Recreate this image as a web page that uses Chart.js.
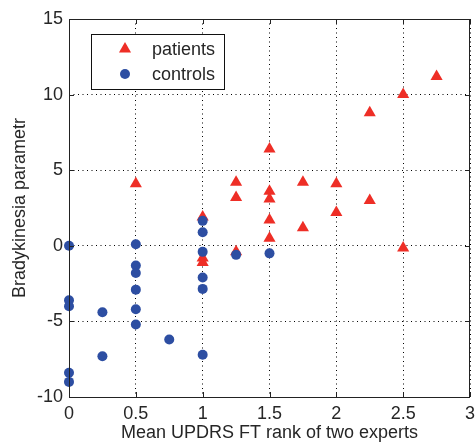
<!DOCTYPE html>
<html>
<head>
<meta charset="utf-8">
<script src="https://cdn.jsdelivr.net/npm/chart.js@4/dist/chart.umd.min.js"></script>
<style>
html,body{margin:0;padding:0;background:#fff;}
#wrap{width:475px;height:445px;position:relative;}
</style>
</head>
<body>
<div id="wrap"><canvas id="c" width="475" height="445"></canvas></div>
<script>
const patientsX = [0.5, 1, 1, 1, 1.25, 1.25, 1.25, 1.5, 1.5, 1.5, 1.5, 1.5, 1.75, 1.75, 2, 2, 2.25, 2.25, 2.5, 2.5, 2.75];
const patientsY = [4.1, 1.9, -0.8, -1.1, 4.2, 3.2, -0.4, 6.4, 3.6, 3.1, 1.7, 0.5, 4.2, 1.2, 4.1, 2.2, 8.8, 3.0, 10.0, -0.15, 11.2];
const controlsX = [0, 0, 0, 0, 0, 0.25, 0.25, 0.5, 0.5, 0.5, 0.5, 0.5, 0.5, 0.75, 1, 1, 1, 1, 1, 1, 1.25, 1.5];
const controlsY = [0.0, -3.6, -4.0, -8.4, -9.0, -4.4, -7.3, 0.1, -1.3, -1.8, -2.9, -4.2, -5.2, -6.2, 1.65, 0.9, -0.4, -2.1, -2.85, -7.2, -0.6, -0.5];
const seriesNames = ['patients', 'controls'];
const xTicks = [0, 0.5, 1, 1.5, 2, 2.5, 3];
const yTicks = [-10, -5, 0, 5, 10, 15];
const xTitle = 'Mean UPDRS FT rank of two experts';
const yTitle = 'Bradykinesia parametr';

const RED = '#EE2E26';
const BLUE = '#2D4EA2';
const TXT = '#262626';
const FONT = "'Liberation Sans', Arial, sans-serif";

const toPts = (xs, ys) => xs.map((x, i) => ({x: x, y: ys[i]}));

const boxPlugin = {
  id: 'box',
  afterDatasetsDraw(chart) {
    const {ctx, chartArea: a, scales} = chart;
    ctx.save();
    ctx.strokeStyle = '#222';
    ctx.lineWidth = 1;
    ctx.setLineDash([]);
    ctx.strokeRect(Math.round(a.left) + 0.5, Math.round(a.top) + 0.5, Math.round(a.right - a.left) - 1, Math.round(a.bottom - a.top));
    const tl = 5;
    ctx.beginPath();
    xTicks.forEach(v => {
      const px = Math.round(scales.x.getPixelForValue(v)) + 0.5;
      ctx.moveTo(px, a.bottom); ctx.lineTo(px, a.bottom - tl);
      ctx.moveTo(px, a.top); ctx.lineTo(px, a.top + tl);
    });
    yTicks.forEach(v => {
      const py = Math.round(scales.y.getPixelForValue(v)) + 0.5;
      ctx.moveTo(a.left, py); ctx.lineTo(a.left + tl, py);
      ctx.moveTo(a.right, py); ctx.lineTo(a.right - tl, py);
    });
    ctx.stroke();

    // legend box
    const lx = 91, ly = 34, lw = 133, lh = 55;
    ctx.fillStyle = '#fff';
    ctx.fillRect(lx, ly, lw, lh);
    ctx.strokeStyle = '#111';
    ctx.strokeRect(lx + 0.5, ly + 0.5, lw, lh);
    chart.data.datasets.slice().sort((p, q) => seriesNames.indexOf(p.label) - seriesNames.indexOf(q.label)).forEach((ds, i) => {
      const cy = ly + 15 + i * 25;
      const cx = lx + 34;
      ctx.fillStyle = ds.backgroundColor;
      ctx.beginPath();
      if (ds.pointStyle === 'triangle') {
        const r = ds.pointRadius;
        ctx.moveTo(cx, cy - r);
        ctx.lineTo(cx + r * Math.sin(2 * Math.PI / 3), cy - r * Math.cos(2 * Math.PI / 3));
        ctx.lineTo(cx + r * Math.sin(4 * Math.PI / 3), cy - r * Math.cos(4 * Math.PI / 3));
      } else {
        ctx.arc(cx, cy, ds.pointRadius, 0, Math.PI * 2);
      }
      ctx.closePath();
      ctx.fill();
      ctx.fillStyle = TXT;
      ctx.font = '18px ' + FONT;
      ctx.textBaseline = 'middle';
      ctx.textAlign = 'left';
      ctx.fillText(ds.label, lx + 61, cy + 1);
    });
    ctx.restore();
  }
};

new Chart(document.getElementById('c'), {
  type: 'scatter',
  data: {
    datasets: [
      {
        label: seriesNames[1],
        data: toPts(controlsX, controlsY),
        pointStyle: 'circle',
        pointRadius: 5,
        pointHoverRadius: 5,
        pointBorderWidth: 0,
        backgroundColor: BLUE,
        borderColor: BLUE,
        clip: false
      },
      {
        label: seriesNames[0],
        data: toPts(patientsX, patientsY),
        pointStyle: 'triangle',
        pointRadius: 7,
        pointHoverRadius: 7,
        pointBorderWidth: 0,
        backgroundColor: RED,
        borderColor: RED,
        clip: false
      }
    ]
  },
  options: {
    responsive: false,
    devicePixelRatio: 1,
    animation: false,
    events: [],
    layout: {autoPadding: false, padding: {left: 0, top: 19, right: 5, bottom: 0}},
    plugins: {legend: {display: false}, tooltip: {enabled: false}},
    scales: {
      x: {
        type: 'linear',
        min: 0, max: 3,
        afterFit: s => { s.height = 48; s.paddingLeft = 0; s.paddingRight = 0; },
        afterBuildTicks: s => { s.ticks = xTicks.map(v => ({value: v})); },
        ticks: {color: TXT, font: {family: FONT, size: 18}, padding: 6, maxRotation: 0, autoSkip: false,
          callback: v => String(v)},
        grid: {display: true, color: '#000', lineWidth: 1, drawTicks: false},
        border: {display: false, dash: [1, 3.5]},
        title: {display: true, text: xTitle, color: TXT, font: {family: FONT, size: 18}, padding: {top: 0, bottom: 1}}
      },
      y: {
        type: 'linear',
        min: -10, max: 15,
        afterFit: s => { s.width = 69; s.paddingTop = 0; s.paddingBottom = 0; },
        afterBuildTicks: s => { s.ticks = yTicks.map(v => ({value: v})); },
        ticks: {color: TXT, font: {family: FONT, size: 18}, padding: 6, autoSkip: false,
          callback: v => String(v)},
        grid: {display: true, color: '#000', lineWidth: 1, drawTicks: false},
        border: {display: false, dash: [1, 3.5]},
        title: {display: true, text: yTitle, color: TXT, font: {family: FONT, size: 18}, padding: {top: 9, bottom: 0}}
      }
    }
  },
  plugins: [boxPlugin]
});
</script>
</body>
</html>
